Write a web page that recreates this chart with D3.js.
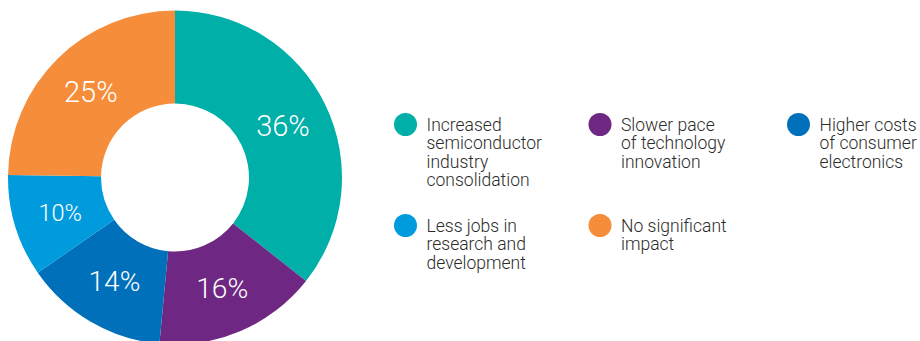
<!DOCTYPE html>
<html>
<head>
<meta charset="utf-8">
<script src="https://cdn.jsdelivr.net/npm/d3@7"></script>
<style>
  html, body { margin: 0; padding: 0; background: #fff; }
  svg { display: block; }
  text { font-family: "Roboto", "Liberation Sans", Arial, sans-serif; }
</style>
</head>
<body>
<svg id="chart" width="920" height="341"></svg>
<script>
// Survey answers: expected impact
const categories = [
  "Increased semiconductor industry consolidation",
  "Slower pace of technology innovation",
  "Higher costs of consumer electronics",
  "Less jobs in research and development",
  "No significant impact"
];
const values = [36, 16, 14, 10, 25];
const colors = ["#00AFA7", "#6E2783", "#0070BB", "#009BDD", "#F68D3B"];
// Legend labels, broken into lines
const legendLines = [
  ["Increased", "semiconductor", "industry", "consolidation"],
  ["Slower pace", "of technology", "innovation"],
  ["Higher costs", "of consumer", "electronics"],
  ["Less jobs in", "research and", "development"],
  ["No significant", "impact"]
];

const svg = d3.select("#chart");

// ---- Donut ----
const cx = 175, cy = 177.5, rOuter = 167, rInner = 74;
const pie = d3.pie().value(d => d).sort(null);
const arcs = pie(values);
const arc = d3.arc().innerRadius(rInner).outerRadius(rOuter);
const labelArc = d3.arc().innerRadius(120).outerRadius(120);
const labelSize = d3.scaleLinear().domain([10, 14, 25]).range([23.5, 28, 29]).clamp(true);

const g = svg.append("g").attr("transform", `translate(${cx},${cy})`);
g.selectAll("path.slice")
  .data(arcs)
  .join("path")
  .attr("class", "slice")
  .attr("d", arc)
  .attr("fill", (d, i) => colors[i]);

g.selectAll("text.pct")
  .data(arcs)
  .join("text")
  .attr("class", "pct")
  .attr("transform", d => `translate(${labelArc.centroid(d)})`)
  .attr("text-anchor", "middle")
  .attr("dy", "0.36em")
  .attr("fill", "#fff")
  .style("font-weight", 300)
  .style("font-size", d => labelSize(d.data) + "px")
  .text(d => d.data + "%");

// ---- Legend ----
const colX = [405.5, 600, 798.5];
const rowY = [124.5, 225.5];
const legend = svg.append("g");
const items = legend.selectAll("g.item")
  .data(categories)
  .join("g")
  .attr("class", "item")
  .attr("transform", (d, i) => `translate(${colX[i % 3]},${rowY[Math.floor(i / 3)]})`);

items.append("circle")
  .attr("r", 11.5)
  .attr("fill", (d, i) => colors[i]);

items.append("text")
  .attr("x", 21)
  .attr("y", 6)
  .attr("fill", "#2b2b2b")
  .style("font-size", "17.5px")
  .style("font-weight", 300)
  .selectAll("tspan")
  .data((d, i) => legendLines[i])
  .join("tspan")
  .attr("x", 21)
  .attr("dy", (d, j) => j === 0 ? 0 : 18.5)
  .text(d => d);
</script>
</body>
</html>
